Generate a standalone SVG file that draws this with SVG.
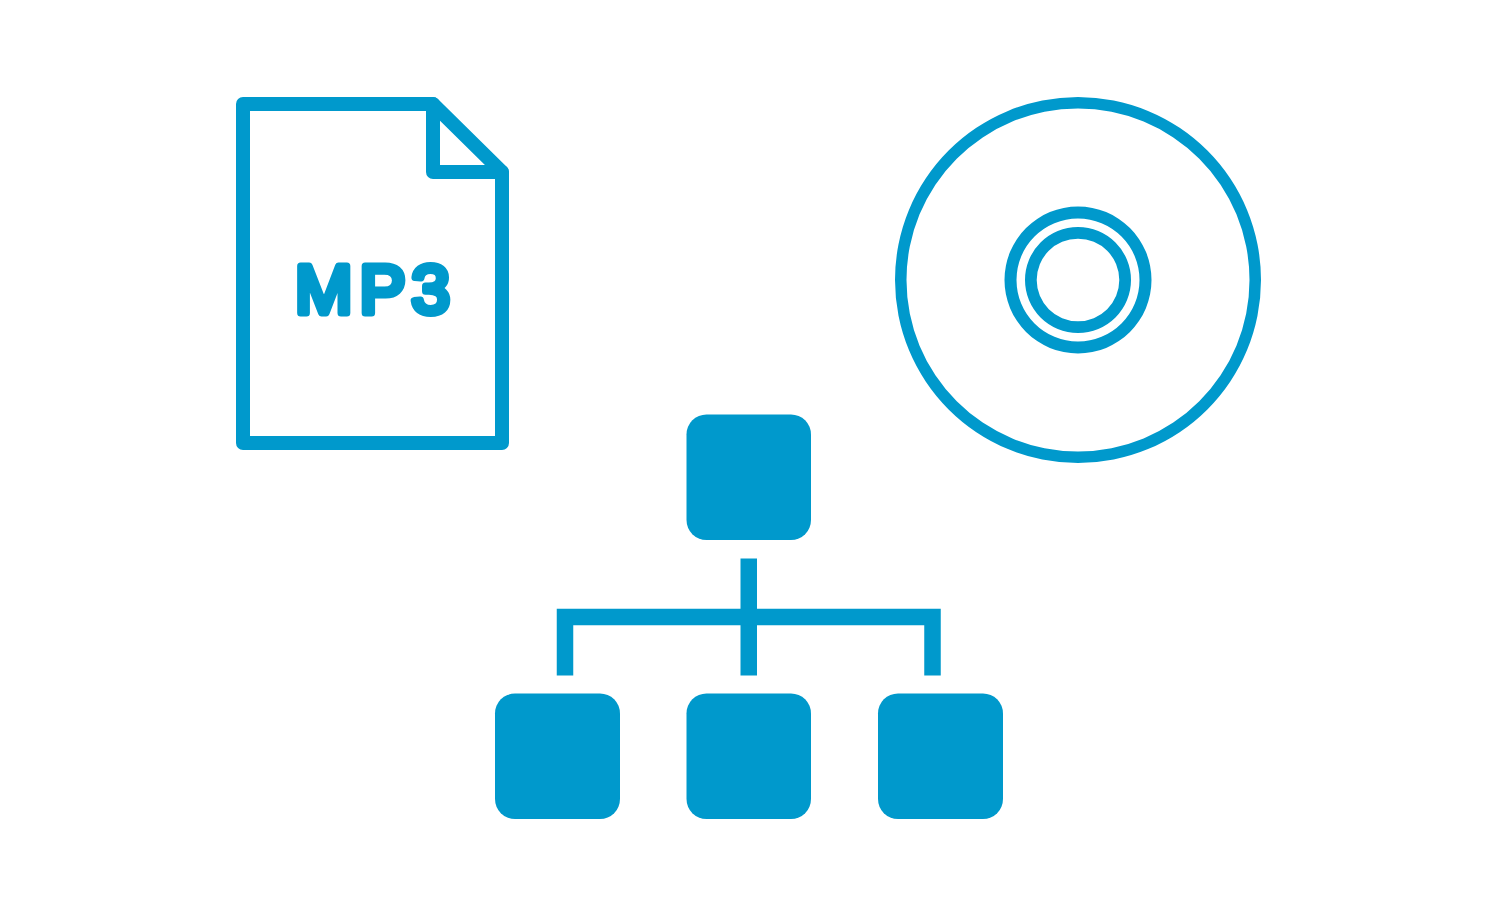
<svg xmlns="http://www.w3.org/2000/svg" width="1497" height="900" viewBox="0 0 1497 900">
<style>
.line{fill:none;stroke:#0099cc;stroke-linejoin:round;stroke-linecap:round}
.ring{fill:#0099cc;fill-rule:evenodd}
.box{fill:#0099cc}
.conn{fill:none;stroke:#0099cc;stroke-width:16.5;stroke-linecap:butt;stroke-linejoin:miter}
.lbl{font-family:"Liberation Sans",Arial,sans-serif;font-weight:400;font-size:69px;fill:#0099cc;stroke:#0099cc;stroke-width:7;stroke-linejoin:round;stroke-linecap:round}
</style>
<rect width="1497" height="900" fill="#ffffff"/>
<g id="mp3-file">
<path class="line" stroke-width="14" d="M243 104H433L502 172V443H243Z"/>
<path class="line" stroke-width="14" d="M433 104V172H502"/>
<text class="lbl" x="295 359.5 411.500" y="312.500">MP3</text>
</g>
<g id="disc">
<path class="ring" d="M895 280A183 183 0 0 1 1261 280A183 183 0 0 1 895 280ZM906.500 280A171.500 171.500 0 0 0 1249.500 280A171.500 171.500 0 0 0 906.500 280Z"/>
<path class="ring" d="M1004.500 280A73.500 73.500 0 0 1 1151.500 280A73.500 73.500 0 0 1 1004.500 280ZM1016.500 280A61.500 61.500 0 0 0 1139.500 280A61.500 61.500 0 0 0 1016.500 280Z"/>
<path class="ring" d="M1025 280A53 53 0 0 1 1131 280A53 53 0 0 1 1025 280ZM1036.700 280A41.300 41.300 0 0 0 1119.300 280A41.300 41.300 0 0 0 1036.700 280Z"/>
</g>
<g id="node-top"><path class="box" d="M706.500 414.500H791A20 20 0 0 1 811 434.500V520A20 20 0 0 1 791 540H706.500A20 20 0 0 1 686.500 520V434.500A20 20 0 0 1 706.500 414.500Z"/></g>
<g id="node-left"><path class="box" d="M515 693.500H600A20 20 0 0 1 620 713.500V799A20 20 0 0 1 600 819H515A20 20 0 0 1 495 799V713.500A20 20 0 0 1 515 693.500Z"/></g>
<g id="node-middle"><path class="box" d="M706.500 693.500H791A20 20 0 0 1 811 713.500V799A20 20 0 0 1 791 819H706.500A20 20 0 0 1 686.500 799V713.500A20 20 0 0 1 706.500 693.500Z"/></g>
<g id="node-right"><path class="box" d="M898 693.500H983A20 20 0 0 1 1003 713.500V799A20 20 0 0 1 983 819H898A20 20 0 0 1 878 799V713.500A20 20 0 0 1 898 693.500Z"/></g>
<g id="connectors">
<path class="conn" d="M748.750 558.500V675.500"/>
<path class="conn" d="M565 675.500V617H932.500V675.500"/>
</g>
</svg>
